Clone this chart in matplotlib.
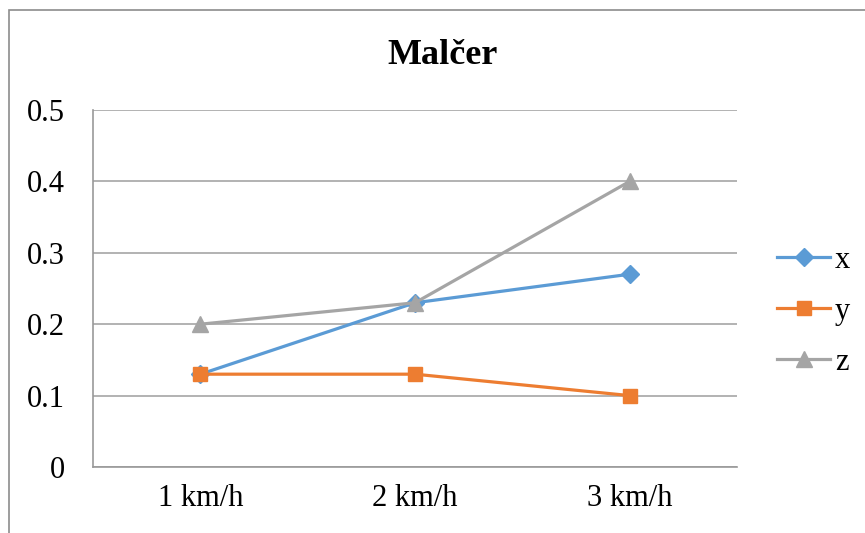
import matplotlib
matplotlib.use("Agg")
import matplotlib.pyplot as plt
from matplotlib.patches import Rectangle

categories = ["1 km/h", "2 km/h", "3 km/h"]
x_vals = [0.13, 0.23, 0.27]
y_vals = [0.13, 0.13, 0.10]
z_vals = [0.20, 0.23, 0.40]
yticks = [0, 0.1, 0.2, 0.3, 0.4, 0.5]
ytick_labels = ["0", "0.1", "0.2", "0.3", "0.4", "0.5"]

plt.rcParams["font.family"] = ["Liberation Serif", "DejaVu Serif"]

W, H = 865, 533
fig = plt.figure(figsize=(W / 100, H / 100), dpi=100)
ax = fig.add_axes([93 / W, 1 - 467 / H, (737 - 93) / W, (467 - 110) / H])

pos = list(range(len(categories)))
ax.plot(pos, x_vals, color="#5B9BD5", lw=2.3, marker="D", ms=9, label="x")
ax.plot(pos, y_vals, color="#ED7D31", lw=2.3, marker="s", ms=10, label="y")
ax.plot(pos, z_vals, color="#A5A5A5", lw=2.3, marker="^", ms=11, label="z")

ax.set_xlim(-0.5, 2.5)
ax.set_ylim(0, 0.5)
ax.set_yticks(yticks)
ax.set_yticklabels(ytick_labels)
ax.set_xticks(pos)
ax.set_xticklabels(categories)
ax.tick_params(axis="both", length=0, labelsize=22)
ax.tick_params(axis="y", pad=20)
ax.tick_params(axis="x", pad=12)
ax.yaxis.grid(True, color="#A6A6A6", lw=1.2)
ax.set_axisbelow(True)
for s in ["top", "right"]:
    ax.spines[s].set_visible(False)
ax.spines["left"].set_color("#999999")
ax.spines["bottom"].set_color("#999999")
ax.spines["left"].set_linewidth(1.2)
ax.spines["bottom"].set_linewidth(1.2)

fig.text(443 / W, 1 - 55 / H, "Malčer", ha="center", va="center",
         fontsize=26, fontweight="bold")

leg = fig.legend(loc="center left", bbox_to_anchor=(777 / W, 1 - 311 / H),
                 frameon=False, fontsize=22, handlelength=1.75,
                 handletextpad=0.15, labelspacing=0.72, borderpad=0,
                 borderaxespad=0)

fig.patches.append(Rectangle((9 / W, -0.1), 1.2, 1 - 10 / H + 0.1,
                             transform=fig.transFigure, fill=False,
                             edgecolor="#8C8C8C", lw=1.2))

fig.savefig("out.png", dpi=100)
